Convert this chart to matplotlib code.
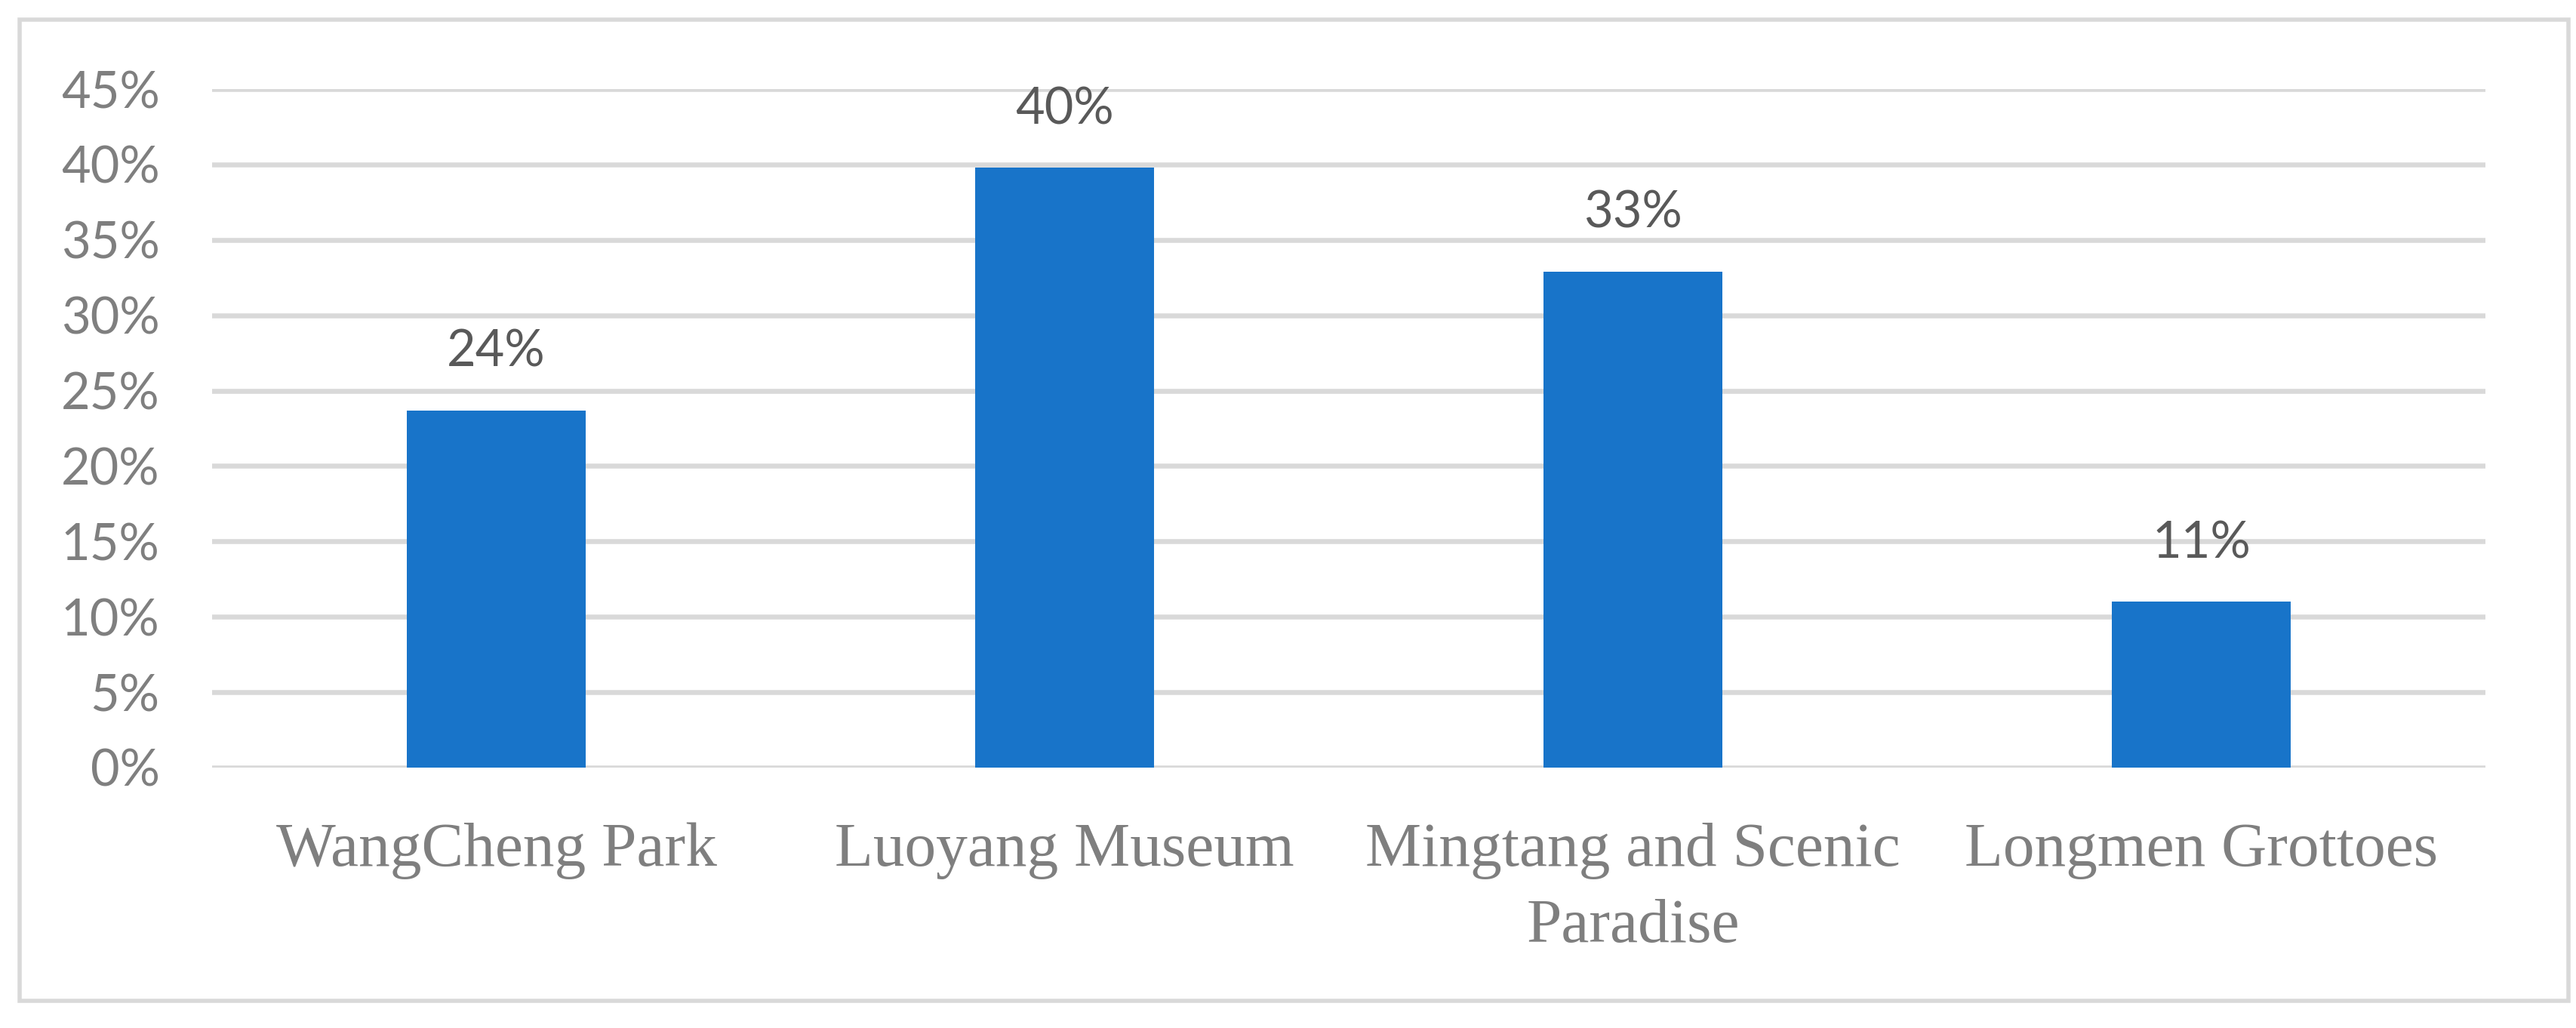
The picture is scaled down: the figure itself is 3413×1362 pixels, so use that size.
import matplotlib
matplotlib.use("Agg")
import matplotlib.pyplot as plt
from matplotlib.patches import Rectangle
from matplotlib.ticker import FuncFormatter

categories = ["WangCheng Park", "Luoyang Museum", "Mingtang and Scenic\nParadise", "Longmen Grottoes"]
values = [0.237, 0.398, 0.329, 0.110]
labels = ["24%", "40%", "33%", "11%"]
yticks = [0, 0.05, 0.10, 0.15, 0.20, 0.25, 0.30, 0.35, 0.40, 0.45]

W, H, DPI = 3413, 1362, 100
fig = plt.figure(figsize=(W / DPI, H / DPI), dpi=DPI)
ax = fig.add_axes([281 / W, 1 - 1017 / H, (3293 - 281) / W, (1017 - 118) / H])

x = list(range(len(categories)))
bars = ax.bar(x, values, width=0.315, color="#1874C9", zorder=3)
for b, lab in zip(bars, labels):
    ax.annotate(lab, (b.get_x() + b.get_width() / 2, b.get_height()),
                xytext=(0, 33), textcoords="offset points", ha="center", va="bottom",
                fontsize=48, family="Lato", color="#595959")

ax.set_xlim(-0.5, 3.5)
ax.set_ylim(0, 0.45)
ax.set_yticks(yticks)
ax.yaxis.set_major_formatter(FuncFormatter(lambda v, p: f"{round(v * 100)}%"))
ax.set_xticks(x)
ax.set_xticklabels(categories, family="Liberation Serif", fontsize=60, color="#7f7f7f",
                   linespacing=1.45)
for t in ax.get_yticklabels():
    t.set_family("Lato")
    t.set_fontsize(48)
    t.set_color("#7f7f7f")
ax.tick_params(axis="y", length=0, pad=50)
ax.tick_params(axis="x", length=0, pad=52)
ax.grid(axis="y", color="#d9d9d9", linewidth=4.7, zorder=0)
ax.set_axisbelow(True)
for s in ax.spines.values():
    s.set_visible(False)

fig.patches.append(Rectangle((26 / W, 1 - 1326 / H), (3403 - 26) / W, (1326 - 26) / H,
                             transform=fig.transFigure, fill=False, edgecolor="#d9d9d9",
                             linewidth=4.0))
fig.savefig("out.png", dpi=DPI)
